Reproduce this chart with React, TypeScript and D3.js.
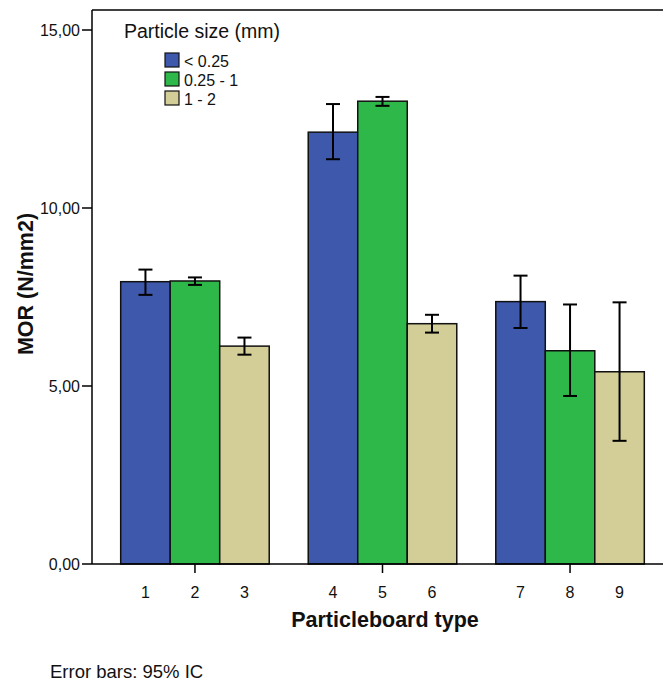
import * as d3 from 'd3';

const groups = ['A', 'B', 'C'];
const sizes = ['< 0.25', '0.25 - 1', '1 - 2'];
const colors = ['#3E58AC', '#2EB84A', '#D3CE98'];
const typeLabels = [
  ['1', '2', '3'],
  ['4', '5', '6'],
  ['7', '8', '9'],
];
const means = [
  [7.93, 7.95, 6.12],
  [12.13, 13.0, 6.75],
  [7.37, 5.99, 5.4],
];
const lower = [
  [7.56, 7.84, 5.88],
  [11.37, 12.87, 6.5],
  [6.63, 4.72, 3.46],
];
const upper = [
  [8.27, 8.05, 6.36],
  [12.92, 13.12, 7.0],
  [8.1, 7.29, 7.35],
];
const yTicks = [0, 5, 10, 15];

const W = 663;
const H = 682;
const left = 92;
const top = 10;
const bottom = 564;
const font = 'Liberation Sans, Arial, sans-serif';

export default function App() {
  const y = d3.scaleLinear().domain([0, 15]).range([bottom, 30]);
  const x = d3
    .scaleBand<string>()
    .domain(groups)
    .range([left, 673])
    .paddingInner(0.208)
    .paddingOuter(0.153);
  const inner = d3.scaleBand<number>().domain([0, 1, 2]).range([0, x.bandwidth()]);
  const fmt = (v: number) => v.toFixed(2).replace('.', ',');

  return (
    <svg
      width={W}
      height={H}
      style={{ position: 'absolute', left: 0, top: 0, background: '#fff' }}
      fontFamily={font}
    >
      {/* bars */}
      {groups.map((g, gi) =>
        sizes.map((s, si) => {
          const bx = (x(g) ?? 0) + (inner(si) ?? 0);
          const bw = inner.bandwidth();
          return (
            <rect
              key={g + s}
              x={bx}
              y={y(means[gi][si])}
              width={bw}
              height={bottom - y(means[gi][si])}
              fill={colors[si]}
              stroke="#111"
              strokeWidth={1.5}
            />
          );
        })
      )}
      {/* error bars */}
      {groups.map((g, gi) =>
        sizes.map((s, si) => {
          const cx = (x(g) ?? 0) + (inner(si) ?? 0) + inner.bandwidth() / 2;
          const y1 = y(upper[gi][si]);
          const y2 = y(lower[gi][si]);
          return (
            <g key={'e' + g + s} stroke="#000" strokeWidth={2}>
              <line x1={cx} x2={cx} y1={y1} y2={y2} />
              <line x1={cx - 7} x2={cx + 7} y1={y1} y2={y1} />
              <line x1={cx - 7} x2={cx + 7} y1={y2} y2={y2} />
            </g>
          );
        })
      )}
      {/* frame */}
      <line x1={left} x2={W} y1={top} y2={top} stroke="#000" strokeWidth={1.5} />
      <line x1={left} x2={W} y1={bottom} y2={bottom} stroke="#000" strokeWidth={1.5} />
      <line x1={left} x2={left} y1={top} y2={bottom} stroke="#000" strokeWidth={1.5} />
      {/* y ticks */}
      {yTicks.map((t) => (
        <g key={t}>
          <line x1={left - 10} x2={left} y1={y(t)} y2={y(t)} stroke="#000" strokeWidth={1.5} />
          <text x={left - 12} y={y(t)} dy="0.35em" textAnchor="end" fontSize={16} fill="#111">
            {fmt(t)}
          </text>
        </g>
      ))}
      {/* x ticks and labels */}
      {groups.map((g, gi) => (
        <g key={'x' + g}>
          <line
            x1={(x(g) ?? 0) + x.bandwidth() / 2}
            x2={(x(g) ?? 0) + x.bandwidth() / 2}
            y1={bottom}
            y2={bottom + 9}
            stroke="#000"
            strokeWidth={1.5}
          />
          {typeLabels[gi].map((lab, si) => (
            <text
              key={lab}
              x={(x(g) ?? 0) + (inner(si) ?? 0) + inner.bandwidth() / 2}
              y={598}
              textAnchor="middle"
              fontSize={16}
              fill="#111"
            >
              {lab}
            </text>
          ))}
        </g>
      ))}
      {/* axis titles */}
      <text x={385} y={627} textAnchor="middle" fontSize={21.5} fontWeight="bold" fill="#111">
        Particleboard type
      </text>
      <text
        transform="translate(33,284) rotate(-90)"
        textAnchor="middle"
        fontSize={21.5}
        fontWeight="bold"
        fill="#111"
      >
        MOR (N/mm2)
      </text>
      <text x={50} y={678} fontSize={18.5} fill="#111">
        Error bars: 95% IC
      </text>
      {/* legend */}
      <text x={124} y={38} fontSize={19.5} fill="#111">
        Particle size (mm)
      </text>
      {sizes.map((s, si) => (
        <g key={'l' + s}>
          <rect
            x={165}
            y={53 + si * 19}
            width={14}
            height={14}
            fill={colors[si]}
            stroke="#111"
            strokeWidth={1.2}
          />
          <text x={184} y={67 + si * 19} fontSize={16} fill="#111">
            {s}
          </text>
        </g>
      ))}
    </svg>
  );
}
